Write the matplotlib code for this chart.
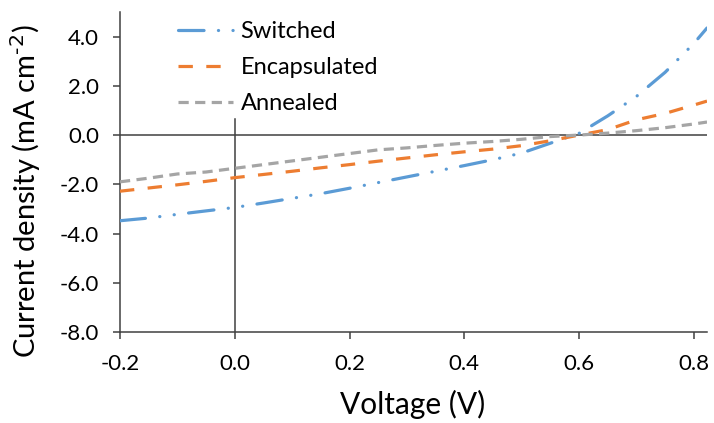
import matplotlib
matplotlib.use("Agg")
import matplotlib.pyplot as plt

# J-V curves
voltage = [-0.2, -0.15, -0.1, -0.05, 0.0, 0.05, 0.1, 0.15, 0.2, 0.25, 0.3,
           0.35, 0.4, 0.45, 0.5, 0.55, 0.6, 0.65, 0.7, 0.75, 0.8, 0.823]
switched = [-3.48, -3.37, -3.22, -3.08, -2.94, -2.76, -2.57, -2.38, -2.16, -1.93,
            -1.70, -1.47, -1.24, -1.00, -0.73, -0.33, 0.07, 0.78, 1.57, 2.55, 3.72, 4.35]
encapsulated = [-2.28, -2.15, -2.02, -1.88, -1.73, -1.60, -1.47, -1.33, -1.20, -1.06,
                -0.93, -0.80, -0.68, -0.57, -0.43, -0.23, 0.0, 0.22, 0.62, 0.88, 1.22, 1.38]
annealed = [-1.90, -1.75, -1.58, -1.50, -1.35, -1.20, -1.05, -0.90, -0.75, -0.60,
            -0.52, -0.42, -0.33, -0.26, -0.17, -0.06, 0.0, 0.08, 0.18, 0.30, 0.45, 0.53]

x_ticks = [-0.2, 0.0, 0.2, 0.4, 0.6, 0.8]
y_ticks = [-8.0, -6.0, -4.0, -2.0, 0.0, 2.0, 4.0]

plt.rcParams["font.family"] = ["Lato", "DejaVu Sans"]
plt.rcParams["axes.unicode_minus"] = False

fig = plt.figure(figsize=(7.14, 4.23), dpi=100)
ax = fig.add_axes([120 / 714, 91 / 423, 587 / 714, 320 / 423])

axis_col = "#404040"
ax.axhline(0, color=axis_col, lw=1.1, zorder=1)
ax.plot([0, 0], [-8, 0.65], color=axis_col, lw=1.1, zorder=1)

ax.plot(voltage, switched, color="#5B9BD5", lw=2.3, dashes=(8, 4.5, 0.05, 4.5, 0.05, 4.5),
        dash_capstyle="round", solid_capstyle="round", label="Switched", zorder=3)
ax.plot(voltage, encapsulated, color="#ED7D31", lw=2.3, dashes=(4.5, 4.2),
        dash_capstyle="butt", label="Encapsulated", zorder=3)
ax.plot(voltage, annealed, color="#A5A5A5", lw=2.3, dashes=(3.2, 2.0),
        dash_capstyle="butt", label="Annealed", zorder=3)

ax.set_xlim(-0.2, 0.823)
ax.set_ylim(-8, 5)
ax.set_xticks(x_ticks)
ax.set_xticklabels([f"{v:.1f}" for v in x_ticks])
ax.set_yticks(y_ticks)
ax.set_yticklabels([f"{v:.1f}" for v in y_ticks])

for side in ["top", "right"]:
    ax.spines[side].set_visible(False)
for side in ["left", "bottom"]:
    ax.spines[side].set_color(axis_col)
    ax.spines[side].set_linewidth(1.1)
ax.tick_params(axis="both", colors=axis_col, labelcolor="black", labelsize=16, width=1.1)
ax.tick_params(axis="y", length=5, pad=10)
ax.tick_params(axis="x", length=5, pad=11)

# axis titles placed by hand, Excel puts them a bit off-centre
fig.text(413 / 714, 1 - 404 / 423, "Voltage (V)", fontsize=21.5, ha="center", va="center")
fig.text(26 / 714, 1 - 191 / 423, r"Current density (mA cm$^{\text{-2}}$)", fontsize=21,
         rotation=90, ha="center", va="center")

fig.legend(loc="upper left", bbox_to_anchor=(178 / 714, 1 - 21 / 423), frameon=False,
           fontsize=17, handlelength=2.35, handletextpad=0.3, labelspacing=0.64,
           borderpad=0, borderaxespad=0)

fig.savefig("out.png", dpi=100)
